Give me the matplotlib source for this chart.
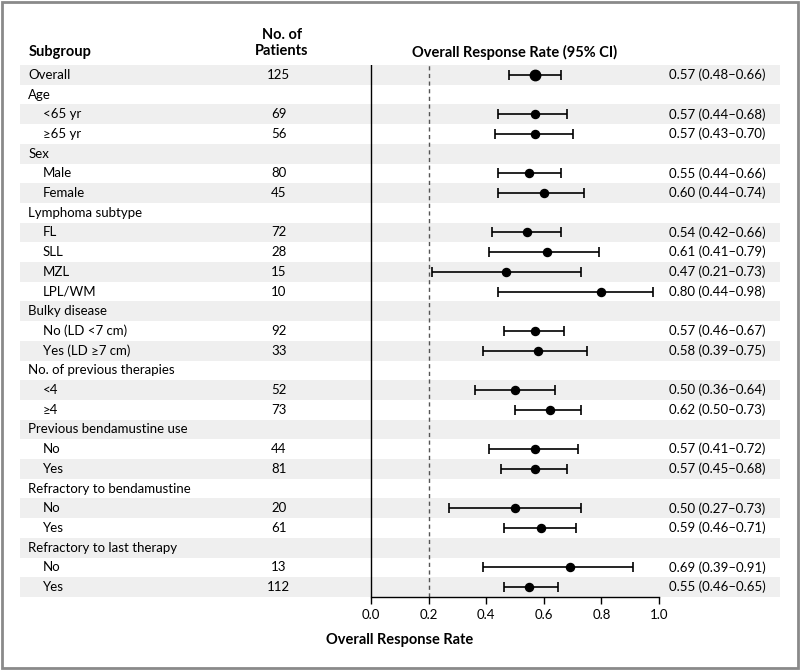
import matplotlib.pyplot as plt
from matplotlib.patches import Rectangle

plt.rcParams['font.family'] = ['Lato', 'DejaVu Sans']

labels = ['Overall', 'Age', '<65 yr', '≥65 yr', 'Sex', 'Male', 'Female',
          'Lymphoma subtype', 'FL', 'SLL', 'MZL', 'LPL/WM',
          'Bulky disease', 'No (LD <7 cm)', 'Yes (LD ≥7 cm)',
          'No. of previous therapies', '<4', '≥4',
          'Previous bendamustine use', 'No', 'Yes',
          'Refractory to bendamustine', 'No', 'Yes',
          'Refractory to last therapy', 'No', 'Yes']
indent = [0, 0, 1, 1, 0, 1, 1, 0, 1, 1, 1, 1, 0, 1, 1, 0, 1, 1, 0, 1, 1, 0, 1, 1, 0, 1, 1]
patients = [125, None, 69, 56, None, 80, 45, None, 72, 28, 15, 10, None, 92, 33,
            None, 52, 73, None, 44, 81, None, 20, 61, None, 13, 112]
rate = [0.57, None, 0.57, 0.57, None, 0.55, 0.60, None, 0.54, 0.61, 0.47, 0.80, None, 0.57, 0.58,
        None, 0.50, 0.62, None, 0.57, 0.57, None, 0.50, 0.59, None, 0.69, 0.55]
lower = [0.48, None, 0.44, 0.43, None, 0.44, 0.44, None, 0.42, 0.41, 0.21, 0.44, None, 0.46, 0.39,
         None, 0.36, 0.50, None, 0.41, 0.45, None, 0.27, 0.46, None, 0.39, 0.46]
upper = [0.66, None, 0.68, 0.70, None, 0.66, 0.74, None, 0.66, 0.79, 0.73, 0.98, None, 0.67, 0.75,
         None, 0.64, 0.73, None, 0.72, 0.68, None, 0.73, 0.71, None, 0.91, 0.65]
xticks = [0.0, 0.2, 0.4, 0.6, 0.8, 1.0]

fig = plt.figure(figsize=(8, 6.7), dpi=100)
ax = fig.add_axes([0.025, 0.109, 0.95, 0.794])

# pixel 20 -> data -1.219, pixel 780 -> 1.420 (x=0 at px 371, x=1 at px 659)
ax.set_xlim(-1.219, 1.420)
n = len(labels)
ax.set_ylim(n - 0.5, -0.5)

for i in range(n):
    if i % 2 == 0:
        ax.axhspan(i - 0.5, i + 0.5, color='#efefef', zorder=0, lw=0)

fs = 9.5
for i, lab in enumerate(labels):
    ax.text(-1.19 + 0.05 * indent[i], i, lab, va='center', ha='left', fontsize=fs)
    if patients[i] is not None:
        ax.text(-0.32, i, str(patients[i]), va='center', ha='center', fontsize=fs)
    if rate[i] is not None:
        big = i == 0
        ax.errorbar(rate[i], i, xerr=[[rate[i] - lower[i]], [upper[i] - rate[i]]],
                    fmt='o', color='black', ms=7.5 if big else 5.8,
                    elinewidth=1.2, capsize=3.5, capthick=1.2, zorder=3)
        ax.text(1.035, i, '%.2f (%.2f–%.2f)' % (rate[i], lower[i], upper[i]),
                va='center', ha='left', fontsize=fs)

ax.axvline(0, color='black', lw=1.0, zorder=2)
ax.axvline(0.2, color='#555555', lw=1.0, ls=(0, (3, 2.5)), zorder=2)

for s in ['top', 'left', 'right']:
    ax.spines[s].set_visible(False)
ax.spines['bottom'].set_bounds(0, 1)
ax.spines['bottom'].set_linewidth(1.0)
ax.set_yticks([])
ax.set_xticks(xticks)
ax.set_xticklabels(['%.1f' % t for t in xticks], fontsize=fs)
ax.tick_params(axis='x', direction='out', length=5, width=1.0, pad=4)
ax.set_xlabel('Overall Response Rate', fontsize=10.5, fontweight='bold', labelpad=8)

# headers
hfs = 10.5
ax.text(-1.19, -1.15, 'Subgroup', fontsize=hfs, fontweight='bold', va='center', ha='left')
ax.text(-0.31, -1.6, 'No. of\nPatients', fontsize=hfs, fontweight='bold',
        va='center', ha='center', linespacing=1.15)
ax.text(0.5, -1.15, 'Overall Response Rate (95% CI)', fontsize=hfs, fontweight='bold',
        va='center', ha='center')

fig.patches.append(Rectangle((0.003, 0.003), 0.994, 0.994, transform=fig.transFigure,
                             fill=False, edgecolor='#8a8a8a', lw=2))

fig.savefig('out.png', dpi=100, facecolor='white')
